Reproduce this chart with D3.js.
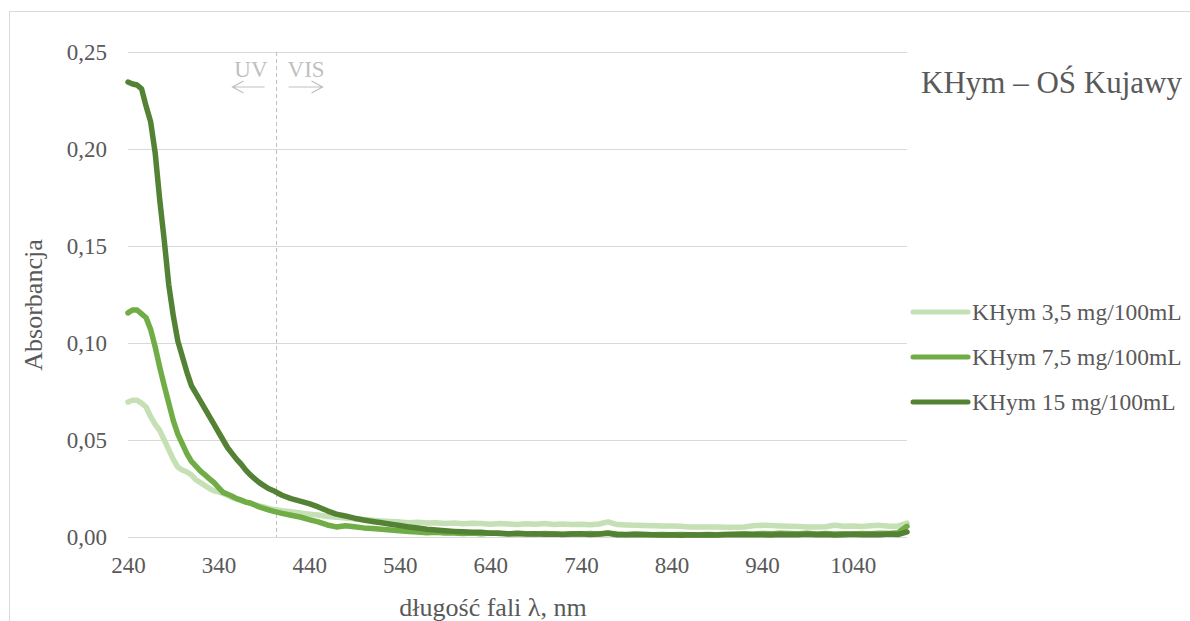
<!DOCTYPE html>
<html>
  <head>
    <meta charset="utf-8">
    <title>KHym – OŚ Kujawy</title>
    <script src="https://cdn.jsdelivr.net/npm/d3@7"></script>
    <style>
      body { margin: 0; background: #fff; }
      svg, svg text { font-family: "Liberation Serif", "Times New Roman", serif; }
      svg { display: block; }
      .tick text { fill: #595959; }
      .grid line { stroke: #d9d9d9; }
    </style>
  </head>
  <body>
    <svg id="chart" width="1190" height="621"></svg>
    <script>
      // data
      var wavelengths = [240,245,250,255,260,265,270,275,280,285,290,295,300,305,310,315,320,325,330,335,340,345,350,355,360,365,370,375,380,385,390,395,400,
        410,420,430,440,450,460,470,480,490,500,510,520,530,540,550,560,570,580,590,600,610,620,630,640,650,660,670,680,690,700,
        710,720,730,740,750,760,770,780,790,800,810,820,830,840,850,860,870,880,890,900,910,920,930,940,950,960,970,980,990,1000,
        1010,1020,1030,1040,1050,1060,1070,1080,1090,1100];

      var kh35 = [0.0696,0.0705,0.0705,0.069,0.067,0.062,0.058,0.055,0.050,0.045,0.040,0.036,0.0345,0.0335,0.032,0.0295,0.028,0.0265,0.025,0.0238,0.0233,0.0225,0.0215,0.0203,0.0195,0.0188,0.018,0.0173,0.0167,0.016,0.0155,0.0148,0.0142,
        0.0135,0.013,0.0124,0.0118,0.0113,0.0106,0.0102,0.0098,0.0094,0.009,0.0086,0.0083,0.008,0.0078,0.0074,0.0076,0.0072,0.0074,0.007,0.0072,0.0068,0.0071,0.0069,0.0066,0.007,0.0067,0.0065,0.0068,0.0066,0.0069,
        0.0065,0.0067,0.0064,0.0066,0.0063,0.0067,0.0078,0.0064,0.0062,0.006,0.0059,0.0058,0.0057,0.0057,0.0056,0.0052,0.0052,0.0051,0.0051,0.005,0.005,0.0052,0.0058,0.006,0.0059,0.0057,0.0055,0.0054,0.0052,0.0051,
        0.0053,0.0061,0.0055,0.0057,0.0054,0.0058,0.006,0.0055,0.0056,0.0072];

      var kh75 = [0.1155,0.117,0.117,0.115,0.113,0.107,0.098,0.0876,0.078,0.069,0.060,0.053,0.048,0.043,0.039,0.0365,0.034,0.032,0.030,0.028,0.0255,0.023,0.022,0.021,0.0198,0.019,0.018,0.0175,0.0165,0.0155,0.0147,0.014,0.0133,
        0.0122,0.0112,0.0103,0.009,0.0078,0.0062,0.0052,0.0058,0.0053,0.0047,0.0044,0.004,0.0036,0.0032,0.0028,0.0026,0.0022,0.0024,0.002,0.0021,0.0018,0.002,0.0017,0.0021,0.0018,0.0016,0.0019,0.0017,0.0015,0.0018,
        0.0016,0.0014,0.0017,0.0015,0.0018,0.0016,0.0021,0.0015,0.0013,0.0016,0.0014,0.0012,0.0013,0.0011,0.0013,0.0012,0.0011,0.0013,0.0012,0.0014,0.0015,0.0017,0.0016,0.0018,0.0017,0.0019,0.0018,0.0017,0.0019,0.0016,
        0.0018,0.0015,0.0017,0.0016,0.0018,0.0017,0.0019,0.0018,0.0022,0.0055];

      var kh15 = [0.2345,0.2335,0.233,0.231,0.222,0.214,0.198,0.174,0.153,0.130,0.114,0.101,0.093,0.085,0.078,0.074,0.070,0.066,0.062,0.058,0.054,0.050,0.046,0.043,0.040,0.0375,0.0345,0.032,0.030,0.028,0.0265,0.025,0.024,
        0.0215,0.0198,0.0185,0.0172,0.0155,0.0135,0.0118,0.0108,0.0097,0.0088,0.008,0.0073,0.0066,0.0059,0.0052,0.0046,0.004,0.0036,0.0032,0.0029,0.0027,0.0024,0.0024,0.0019,0.002,0.0017,0.0018,0.0015,0.0017,0.0014,
        0.0016,0.0013,0.0015,0.0017,0.0013,0.0016,0.0019,0.0012,0.0011,0.0013,0.0011,0.0012,0.001,0.0011,0.0009,0.0011,0.001,0.0012,0.001,0.0012,0.0011,0.0013,0.0011,0.0012,0.001,0.0013,0.0011,0.0012,0.0014,0.0011,
        0.0013,0.001,0.0012,0.0014,0.0011,0.0013,0.0012,0.0015,0.0013,0.0026];

      var seriesNames = ["KHym 3,5 mg/100mL", "KHym 7,5 mg/100mL", "KHym 15 mg/100mL"];
      var seriesValues = [kh35, kh75, kh15];
      var seriesColors = ["#c5e0b4", "#70ad47", "#548235"];
      var xTicks = [240, 340, 440, 540, 640, 740, 840, 940, 1040];
      var yTicks = [0, 0.05, 0.10, 0.15, 0.20, 0.25];
      var uvVisBorder = 404;

      var svg = d3.select("#chart");
      var margin = { left: 128, right: 283, top: 52, bottom: 84 };
      var width = 1190, height = 621;
      var serif = "'Liberation Serif', 'Times New Roman', serif";

      var x = d3.scaleLinear().domain([240, 1100]).range([margin.left, width - margin.right]);
      var y = d3.scaleLinear().domain([0, 0.25]).range([height - margin.bottom, margin.top]);
      var comma = function(d) { return d3.format(".2f")(d).replace(".", ","); };

      // chart frame (cut off on the right and bottom in the picture)
      svg.append("rect")
        .attr("x", 9.5).attr("y", 11.5)
        .attr("width", 1300).attr("height", 800)
        .attr("fill", "none").attr("stroke", "#d9d9d9");

      // y axis + gridlines
      var yAxis = svg.append("g")
        .attr("class", "grid")
        .attr("transform", "translate(" + margin.left + ",0)")
        .call(d3.axisLeft(y).tickValues(yTicks).tickFormat(comma)
          .tickSize(-(x.range()[1] - x.range()[0])).tickPadding(21));
      yAxis.select(".domain").remove();
      yAxis.selectAll("text").style("font-family", serif).style("font-size", "23px");

      // x axis
      var xAxis = svg.append("g")
        .attr("transform", "translate(0," + y(0) + ")")
        .call(d3.axisBottom(x).tickValues(xTicks).tickFormat(d3.format("d")).tickSize(0).tickPadding(20));
      xAxis.select(".domain").remove();
      xAxis.selectAll("text").style("font-family", serif).style("font-size", "23px");

      // UV / VIS divider
      svg.append("line")
        .attr("x1", x(uvVisBorder)).attr("x2", x(uvVisBorder))
        .attr("y1", y(0.25)).attr("y2", y(0))
        .attr("stroke", "#bfbfbf").attr("stroke-dasharray", "4,3");
      var grey = "#bfbfbf";
      svg.append("text").attr("x", x(uvVisBorder) - 9).attr("y", 77)
        .attr("text-anchor", "end").attr("fill", grey).style("font-size", "23px").text("UV");
      svg.append("text").attr("x", x(uvVisBorder) + 11).attr("y", 77)
        .attr("fill", grey).style("font-size", "23px").text("VIS");
      var arrows = svg.append("g").attr("stroke", grey).attr("fill", "none").attr("stroke-width", 1.2);
      var ax = x(uvVisBorder);
      arrows.append("path").attr("d", "M" + (ax - 12) + ",87H" + (ax - 44) + "M" + (ax - 33) + ",81L" + (ax - 44) + ",87L" + (ax - 33) + ",93");
      arrows.append("path").attr("d", "M" + (ax + 12) + ",87H" + (ax + 46) + "M" + (ax + 35) + ",81L" + (ax + 46) + ",87L" + (ax + 35) + ",93");

      // series lines
      var line = d3.line()
        .x(function(d, i) { return x(wavelengths[i]); })
        .y(function(d) { return y(d); });
      svg.append("g").selectAll("path")
        .data(seriesValues)
        .enter().append("path")
          .attr("d", line)
          .attr("fill", "none")
          .attr("stroke", function(d, i) { return seriesColors[i]; })
          .attr("stroke-width", 5.5)
          .attr("stroke-linejoin", "round")
          .attr("stroke-linecap", "round");

      // legend
      var legend = svg.append("g").selectAll("g")
        .data(seriesNames)
        .enter().append("g")
          .attr("transform", function(d, i) { return "translate(913," + (312 + i * 45) + ")"; });
      legend.append("line")
        .attr("x1", 0).attr("x2", 55)
        .attr("stroke", function(d, i) { return seriesColors[i]; })
        .attr("stroke-width", 5).attr("stroke-linecap", "round");
      legend.append("text")
        .attr("x", 59).attr("y", 8)
        .attr("fill", "#595959").style("font-size", "23.5px")
        .text(function(d) { return d; });

      // title and axis titles
      svg.append("text").attr("x", 921).attr("y", 93)
        .attr("fill", "#595959").style("font-size", "31px").text("KHym – OŚ Kujawy");
      svg.append("text").attr("x", 493).attr("y", 616)
        .attr("text-anchor", "middle").attr("fill", "#595959").style("font-size", "26px")
        .text("długość fali λ, nm");
      svg.append("text")
        .attr("transform", "translate(42,305) rotate(-90)")
        .attr("text-anchor", "middle").attr("fill", "#595959").style("font-size", "26px")
        .text("Absorbancja");
    </script>
  </body>
</html>
